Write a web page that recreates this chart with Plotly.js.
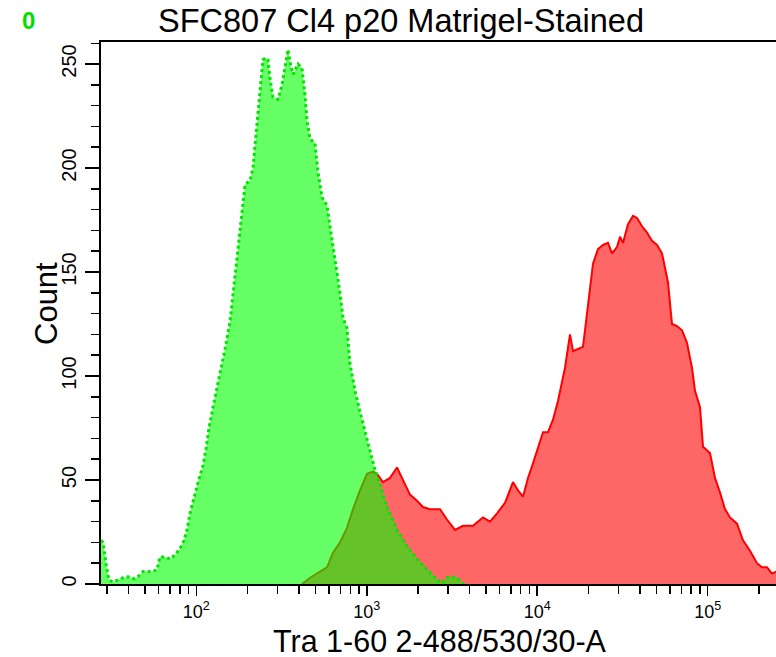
<!DOCTYPE html>
<html><head><meta charset="utf-8">
<script src="https://cdn.plot.ly/plotly-3.0.1.min.js"></script>
<style>html,body{margin:0;padding:0;background:#fff;overflow:hidden}</style>
</head><body><div id="chart" style="width:776px;height:657px"></div>
<script>
// Unstained/control histogram (green), channel value vs count
const greenX = [27.6, 28.4, 29.5, 30.7, 32.4, 34.7, 37.2, 39.7, 43.1, 46.1,
  48.7, 52.1, 55.7, 58.8, 61.2, 65.5, 70.1, 75.0, 80.2, 84.7,
  88.2, 91.8, 95.6, 101, 105, 109.5, 114, 118.7, 125.3, 130.5,
  137.7, 147.4, 157.6, 164.2, 173.4, 180.5, 185.4, 193.1, 206.5, 215.1,
  221, 230.1, 239.6, 246.2, 256.4, 263.4, 270.6, 281.8, 301.5, 318.3,
  331.5, 345.2, 354.6, 369.3, 384.5, 395.1, 417.1, 434.3, 446.1, 464.5,
  497, 517.6, 546.3, 584.5, 608.6, 651.1, 696.6, 725.4, 765.6, 797.3,
  853.1, 912.6, 976.3, 1044.7, 1117.5, 1195.6, 1314.7, 1504, 1722, 1971,
  2256, 2582, 2800, 2955, 3162, 3383, 3571, 3720];
const greenY = [21, 20, 10, 2, 1, 2, 3, 3.5, 2.5, 4,
  6, 6, 6, 7, 13, 13, 12, 14, 17, 21,
  26, 34, 39, 47, 52, 57, 65, 75, 85, 92,
  100, 113, 126, 140, 158, 170, 181, 192, 194, 200,
  211, 228, 242, 252, 253, 252, 243, 234, 233, 240,
  248, 257, 251, 245, 248, 250, 248, 235, 223, 214,
  212, 198, 186, 182, 172, 157, 140, 128, 123, 106,
  93, 83, 73, 64, 55, 47, 37, 26, 18, 12,
  7, 2, 0.5, 3, 3.5, 3, 1, 0];

// Stained histogram (red)
const redX = [417.1, 464.5, 531.6, 584.5, 633.8, 696.6, 765.6, 830.3, 912.6, 1003,
  1087.7, 1148, 1245, 1314.7, 1369, 1504, 1631, 1793, 1971, 2137,
  2349, 2689, 2955, 3293, 3669, 4200, 4806, 5284, 5808, 6470,
  7209, 7713, 8252, 8828, 9443, 10104, 10810, 11565, 12373, 13238,
  14551, 15567, 16210, 17343, 18553, 19584, 20394, 21236, 22721, 24303,
  26007, 27454, 29374, 30588, 31852, 34073, 36464, 38484, 41180, 44046,
  47115, 50409, 53941, 56171, 58493, 61739, 66040, 70670, 75590, 80840,
  84200, 90110, 93850, 103130, 110350, 118060, 126300, 135110, 148530, 161060,
  177060, 194630, 208200, 222700, 238300, 251600];
const redY = [0, 3, 6, 8, 15, 20, 27, 36, 45, 53,
  54, 53, 49, 50, 51, 56, 50, 43, 40, 37,
  36, 36, 31, 26, 28, 28, 32, 30, 34, 39,
  49, 45, 42, 51, 58, 66, 73, 73, 79, 88,
  104, 120, 112, 113, 114, 130, 141, 154, 161, 163,
  164, 159, 162, 167, 164, 173, 177, 176, 172, 169,
  165, 163, 159, 151, 145, 125, 124, 122, 116, 104,
  93, 85, 66, 63, 51, 44, 36, 32, 29, 21,
  16, 10, 8, 8, 5, 6];

const xMajorVals = [100, 1000, 10000, 100000];
const xMajorText = ['10<sup>2</sup>', '10<sup>3</sup>', '10<sup>4</sup>', '10<sup>5</sup>'];
const xMinorVals = [30, 40, 50, 60, 70, 80, 90,
  200, 300, 400, 500, 600, 700, 800, 900,
  2000, 3000, 4000, 5000, 6000, 7000, 8000, 9000,
  20000, 30000, 40000, 50000, 60000, 70000, 80000, 90000, 200000];

const titleText = 'SFC807 Cl4 p20 Matrigel-Stained';
const xTitle = 'Tra 1-60 2-488/530/30-A';
const yTitle = 'Count';
const cornerLabel = '0';

const FONT = 'Liberation Sans, Arial, sans-serif';

const traces = [
  {x: redX, y: redY, type: 'scatter', mode: 'lines', fill: 'tozeroy',
   fillcolor: '#ff6666', line: {color: '#ff0000', width: 2}, hoverinfo: 'skip'},
  {x: greenX, y: greenY, type: 'scatter', mode: 'lines', fill: 'tozeroy',
   fillcolor: 'rgba(0,255,0,0.6)', line: {color: '#00e600', width: 3, dash: '3px,3px'}, hoverinfo: 'skip'}
];

const layout = {
  width: 776, height: 657,
  margin: {l: 101, r: 0, t: 42, b: 73, pad: 0},
  paper_bgcolor: '#ffffff', plot_bgcolor: '#ffffff',
  showlegend: false,
  font: {family: FONT, color: '#000'},
  title: {text: titleText, font: {size: 32.5, color: '#000'},
          xref: 'container', x: 401/776, xanchor: 'center',
          yref: 'container', y: 1 - 21/657, yanchor: 'middle'},
  xaxis: {
    type: 'log', range: [1.441, 5.4006],
    showline: true, linecolor: '#000', linewidth: 2, mirror: true,
    showgrid: false, zeroline: false,
    ticks: 'outside', ticklen: 10, tickwidth: 1.5, tickcolor: '#000',
    tickmode: 'array', tickvals: xMajorVals, ticktext: xMajorText,
    tickfont: {size: 18, color: '#000'},
    ticklabelstandoff: 0,
    minor: {tickmode: 'array', tickvals: xMinorVals, ticks: 'outside', ticklen: 8,
            tickwidth: 1.5, tickcolor: '#000', showgrid: false}
  },
  yaxis: {
    range: [0, 260.6],
    showline: true, linecolor: '#000', linewidth: 2,
    showgrid: false, zeroline: false,
    ticks: 'outside', ticklen: 14, tickwidth: 1.5, tickcolor: '#000',
    tick0: 0, dtick: 50, tickangle: -90,
    tickfont: {size: 20, color: '#000'},
    ticklabelstandoff: 1,
    minor: {dtick: 10, ticks: 'outside', ticklen: 8, tickwidth: 1.5, tickcolor: '#000', showgrid: false}
  },
  annotations: [
    {text: cornerLabel, xref: 'paper', yref: 'paper', x: -73/675, y: (584-20)/542,
     xanchor: 'center', yanchor: 'middle', showarrow: false,
     font: {size: 24, color: '#00e000', family: FONT, weight: 'bold'}},
    {text: yTitle, xref: 'paper', yref: 'paper', x: (46-101)/675, y: (584-303)/542,
     xanchor: 'center', yanchor: 'middle', textangle: -90, showarrow: false,
     font: {size: 31, color: '#000', family: FONT}},
    {text: xTitle, xref: 'paper', yref: 'paper', x: (440-101)/675, y: (584-641)/542,
     xanchor: 'center', yanchor: 'middle', showarrow: false,
     font: {size: 30.5, color: '#000', family: FONT}}
  ]
};

Plotly.newPlot('chart', traces, layout, {displayModeBar: false, staticPlot: true});
</script></body></html>
